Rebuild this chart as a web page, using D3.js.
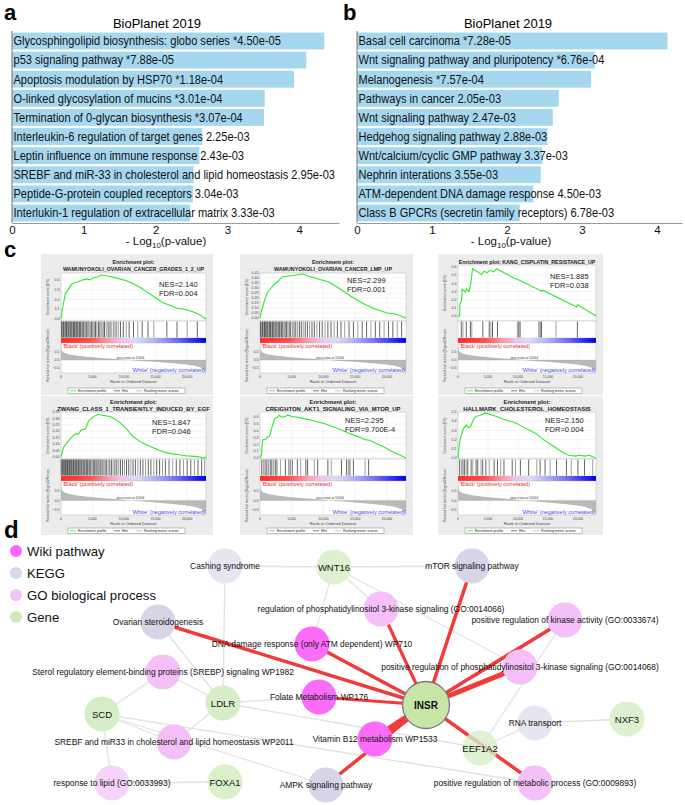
<!DOCTYPE html>
<html><head><meta charset="utf-8">
<script src="https://cdn.jsdelivr.net/npm/d3@7"></script>
<style>
body{margin:0;background:#fff}
svg{display:block;font-family:"Liberation Sans",Arial,Helvetica,sans-serif}
</style>
</head><body>
<svg id="fig" width="685" height="805"></svg>
<script>
// ---------------- DATA ----------------
// Panel a
const termsA = ["Glycosphingolipid biosynthesis: globo series","p53 signaling pathway","Apoptosis modulation by HSP70","O-linked glycosylation of mucins","Termination of 0-glycan biosynthesis","Interleukin-6 regulation of target genes","Leptin influence on immune response","SREBF and miR-33 in cholesterol and lipid homeostasis","Peptide-G-protein coupled receptors","Interlukin-1 regulation of extracellular matrix"];
const pLabelsA = ["*4.50e-05","*7.88e-05","*1.18e-04","*3.01e-04","*3.07e-04","2.25e-03","2.43e-03","2.95e-03","3.04e-03","3.33e-03"];
const valuesA = [4.35,4.10,3.93,3.52,3.51,2.65,2.61,2.53,2.52,2.48];
// Panel b
const termsB = ["Basal cell carcinoma","Wnt signaling pathway and pluripotency","Melanogenesis","Pathways in cancer","Wnt signaling pathway","Hedgehog signaling pathway","Wnt/calcium/cyclic GMP pathway","Nephrin interations","ATM-dependent DNA damage response","Class B GPCRs (secretin family receptors)"];
const pLabelsB = ["*7.28e-05","*6.76e-04","*7.57e-04","2.05e-03","2.47e-03","2.88e-03","3.37e-03","3.55e-03","4.50e-03","6.78e-03"];
const valuesB = [4.14,3.17,3.12,2.69,2.61,2.54,2.47,2.45,2.35,2.17];
const barTicks = [0,1,2,3,4];

// Panel c (GSEA)
const gseaTitles = [["Enrichment plot:","WAMUNYOKOLI_OVARIAN_CANCER_GRADES_1_2_UP"],["Enrichment plot:","WAMUNYOKOLI_OVARIAN_CANCER_LMP_UP"],["Enrichment plot: KANG_CISPLATIN_RESISTANCE_UP"],["Enrichment plot:","ZWANG_CLASS_1_TRANSIENTLY_INDUCED_BY_EGF"],["Enrichment plot:","CREIGHTON_AKT1_SIGNALING_VIA_MTOR_UP"],["Enrichment plot:","HALLMARK_CHOLESTEROL_HOMEOSTASIS"]];
const gseaNES = ["2.140","2.299","1.885","1.847","2.295","2.150"];
const gseaFDR = ["0.004","0.001","0.038","0.046","9.700E-4","0.004"];
const esTicks1 = [0,0.1,0.2,0.3,0.4];
const esTicks2 = [0,0.05,0.1,0.15,0.2,0.25,0.3,0.35,0.4,0.45];
const esTicks3 = [0,0.1,0.2,0.3,0.4,0.5,0.6];
const esTicks4 = [0,0.05,0.1,0.15,0.2,0.25,0.3,0.35];
const esTicks5 = [0,0.1,0.2,0.3,0.4,0.5,0.6];
const esTicks6 = [0,0.1,0.2,0.3,0.4,0.5];
const es1 = [[0,0],[0.01,0.1],[0.02,0.18],[0.03,0.26],[0.05,0.3],[0.07,0.35],[0.09,0.37],[0.12,0.38],[0.15,0.4],[0.18,0.41],[0.2,0.4],[0.22,0.42],[0.25,0.43],[0.28,0.45],[0.32,0.44],[0.38,0.42],[0.45,0.39],[0.5,0.36],[0.55,0.32],[0.6,0.27],[0.65,0.22],[0.7,0.17],[0.75,0.14],[0.8,0.11],[0.85,0.1],[0.9,0.08],[0.95,0.05],[1,0]];
const es2 = [[0,0],[0.01,0.07],[0.03,0.17],[0.05,0.25],[0.08,0.31],[0.1,0.34],[0.12,0.36],[0.15,0.41],[0.2,0.42],[0.25,0.43],[0.29,0.44],[0.33,0.42],[0.4,0.39],[0.47,0.36],[0.55,0.29],[0.62,0.22],[0.7,0.15],[0.77,0.1],[0.83,0.07],[0.87,0.05],[0.93,0.04],[1,0]];
const es3 = [[0,0],[0.012,0],[0.014,0.15],[0.025,0.18],[0.03,0.33],[0.055,0.29],[0.06,0.33],[0.08,0.3],[0.09,0.37],[0.1,0.5],[0.105,0.58],[0.17,0.51],[0.19,0.55],[0.21,0.53],[0.23,0.56],[0.26,0.54],[0.28,0.58],[0.3,0.56],[0.41,0.46],[0.43,0.45],[0.6,0.31],[0.62,0.31],[0.86,0.11],[0.865,0.14],[1,0]];
const es4 = [[0,0],[0.01,0.05],[0.02,0.08],[0.04,0.11],[0.07,0.15],[0.1,0.18],[0.12,0.18],[0.14,0.21],[0.17,0.22],[0.19,0.28],[0.22,0.31],[0.25,0.33],[0.28,0.325],[0.34,0.315],[0.38,0.29],[0.41,0.265],[0.45,0.22],[0.5,0.155],[0.56,0.11],[0.62,0.08],[0.68,0.05],[0.74,0.03],[0.8,0.02],[0.86,0.01],[0.92,0.005],[0.96,0],[0.98,-0.01],[1,0]];
const es5 = [[0,0],[0.01,0.05],[0.015,0.2],[0.02,0.27],[0.04,0.28],[0.05,0.31],[0.06,0.31],[0.07,0.35],[0.08,0.44],[0.09,0.51],[0.1,0.58],[0.12,0.6],[0.13,0.63],[0.15,0.6],[0.17,0.61],[0.19,0.63],[0.22,0.61],[0.26,0.6],[0.3,0.58],[0.35,0.56],[0.4,0.53],[0.45,0.5],[0.5,0.46],[0.55,0.42],[0.6,0.37],[0.64,0.34],[0.7,0.29],[0.72,0.27],[0.75,0.26],[0.8,0.21],[0.85,0.16],[0.9,0.1],[0.95,0.05],[1,0]];
const es6 = [[0,0],[0.01,0.15],[0.02,0.23],[0.04,0.32],[0.06,0.36],[0.075,0.33],[0.09,0.34],[0.11,0.41],[0.13,0.45],[0.17,0.47],[0.2,0.49],[0.24,0.47],[0.28,0.45],[0.35,0.41],[0.42,0.38],[0.48,0.33],[0.56,0.27],[0.62,0.2],[0.7,0.12],[0.76,0.06],[0.8,0.03],[0.85,0.02],[0.88,0.03],[0.92,0.02],[0.95,0.03],[0.98,0.01],[1,0]];
const hits1 = [0.004,0.01,0.016,0.021,0.027,0.033,0.038,0.044,0.05,0.056,0.061,0.067,0.074,0.08,0.086,0.093,0.1,0.106,0.113,0.12,0.127,0.134,0.142,0.15,0.157,0.165,0.173,0.18,0.19,0.2,0.21,0.218,0.228,0.238,0.247,0.258,0.268,0.278,0.29,0.3,0.312,0.325,0.338,0.35,0.365,0.38,0.395,0.41,0.43,0.45,0.47,0.5,0.53,0.56,0.6,0.64,0.73,0.8,0.87,0.94];
const hits2 = [0.003,0.009,0.015,0.02,0.026,0.031,0.037,0.043,0.048,0.054,0.06,0.066,0.072,0.078,0.085,0.091,0.097,0.104,0.111,0.118,0.125,0.133,0.14,0.148,0.156,0.164,0.172,0.181,0.19,0.2,0.21,0.222,0.233,0.245,0.258,0.27,0.283,0.296,0.31,0.325,0.34,0.356,0.372,0.39,0.408,0.426,0.445,0.465,0.486,0.508,0.53,0.555,0.58,0.61,0.64,0.67,0.7,0.73,0.76,0.79,0.82,0.85,0.88,0.91,0.94,0.97];
const hits3 = [0.024,0.036,0.06,0.09,0.1,0.18,0.226,0.238,0.25,0.286,0.43,0.44,0.45,0.585,0.595,0.605,0.71,0.865];
const hits4 = [0.002,0.007,0.012,0.016,0.021,0.026,0.031,0.035,0.04,0.045,0.05,0.055,0.06,0.065,0.07,0.075,0.08,0.086,0.091,0.097,0.102,0.108,0.114,0.12,0.126,0.132,0.138,0.144,0.15,0.157,0.164,0.17,0.177,0.184,0.191,0.198,0.206,0.214,0.222,0.23,0.238,0.247,0.256,0.265,0.274,0.284,0.294,0.304,0.315,0.326,0.337,0.349,0.36,0.372,0.385,0.398,0.41,0.424,0.438,0.452,0.467,0.482,0.497,0.513,0.53,0.547,0.565,0.583,0.602,0.62,0.64,0.66,0.68,0.7,0.72,0.745,0.77,0.795,0.82,0.845,0.87,0.895,0.92,0.945,0.97,0.99];
const hits5 = [0.012,0.023,0.035,0.047,0.058,0.07,0.081,0.093,0.105,0.116,0.14,0.174,0.198,0.209,0.221,0.256,0.279,0.314,0.326,0.372,0.395,0.465,0.488,0.558,0.593,0.605,0.616,0.64,0.72,0.744];
const hits6 = [0.012,0.024,0.036,0.048,0.06,0.071,0.095,0.107,0.131,0.143,0.167,0.179,0.202,0.226,0.262,0.286,0.31,0.333,0.393,0.417,0.452,0.512,0.571,0.595,0.631,0.667,0.714,0.786,0.821,0.869,0.917,0.976];
const rankMetric = [[0,0.95],[0.005,0.6],[0.02,0.45],[0.05,0.36],[0.1,0.28],[0.2,0.19],[0.3,0.12],[0.4,0.06],[0.478,0],[0.55,-0.05],[0.65,-0.11],[0.75,-0.18],[0.85,-0.26],[0.92,-0.35],[0.97,-0.48],[0.995,-0.7],[1,-0.78]];
const rankTicks = [0,5000,10000,15000,20000];
const rankTotal = 23000;
const metricTicks = [0.5,0,-0.5];
const zeroCross = 11004;

// Panel d (network)
const nodeNames = ["INSR","Cashing syndrome","WNT16","mTOR signaling pathway","Ovarian steroidogenesis","regulation of phosphatidylinositol 3-kinase signaling (GO:0014066)","positive regulation of kinase activity (GO:0033674)","DNA damage response (only ATM dependent) WP710","positive regulation of phosphatidylinositol 3-kinase signaling (GO:0014068)","Sterol regulatory element-binding proteins (SREBP) signaling WP1982","Folate Metabolism WP176","LDLR","SCD","SREBF and miR33 in cholesterol and lipid homeostasis WP2011","Vitamin B12 metabolism WP1533","RNA transport","NXF3","EEF1A2","response to lipid (GO:0033993)","FOXA1","AMPK signaling pathway","positive regulation of metabolic process (GO:0009893)"];
const nodeTypes = ["Gene","KEGG","Gene","KEGG","KEGG","GO","GO","Wiki","GO","GO","Wiki","Gene","Gene","GO","Wiki","KEGG","Gene","Gene","GO","Gene","KEGG","GO"];
const legendLabels = ["Wiki pathway","KEGG","GO biological process","Gene"];
const legendTypes = ["Wiki","KEGG","GO","Gene"];
const insrTargets = ["Ovarian steroidogenesis","DNA damage response (only ATM dependent) WP710","regulation of phosphatidylinositol 3-kinase signaling (GO:0014066)","mTOR signaling pathway","positive regulation of kinase activity (GO:0033674)","positive regulation of phosphatidylinositol 3-kinase signaling (GO:0014068)","Folate Metabolism WP176","Vitamin B12 metabolism WP1533","AMPK signaling pathway","positive regulation of metabolic process (GO:0009893)"];
const otherLinks = [["Cashing syndrome","WNT16"],["WNT16","mTOR signaling pathway"],["Cashing syndrome","LDLR"],["WNT16","DNA damage response (only ATM dependent) WP710"],["WNT16","regulation of phosphatidylinositol 3-kinase signaling (GO:0014066)"],["WNT16","positive regulation of phosphatidylinositol 3-kinase signaling (GO:0014068)"],["Ovarian steroidogenesis","LDLR"],["Sterol regulatory element-binding proteins (SREBP) signaling WP1982","LDLR"],["Sterol regulatory element-binding proteins (SREBP) signaling WP1982","SCD"],["LDLR","Folate Metabolism WP176"],["LDLR","SREBF and miR33 in cholesterol and lipid homeostasis WP2011"],["LDLR","EEF1A2"],["SCD","SREBF and miR33 in cholesterol and lipid homeostasis WP2011"],["SCD","response to lipid (GO:0033993)"],["SCD","AMPK signaling pathway"],["SCD","positive regulation of metabolic process (GO:0009893)"],["response to lipid (GO:0033993)","FOXA1"],["RNA transport","NXF3"],["RNA transport","EEF1A2"],["EEF1A2","positive regulation of kinase activity (GO:0033674)"]];

// ---------------- LAYOUT / STYLE ----------------
const netLayout = {
 "INSR":[426,705],"Cashing syndrome":[225,566],"WNT16":[334,567],"mTOR signaling pathway":[472,566],
 "Ovarian steroidogenesis":[158,622],"regulation of phosphatidylinositol 3-kinase signaling (GO:0014066)":[381,609],
 "positive regulation of kinase activity (GO:0033674)":[565,620],"DNA damage response (only ATM dependent) WP710":[312,644],
 "positive regulation of phosphatidylinositol 3-kinase signaling (GO:0014068)":[520,667],
 "Sterol regulatory element-binding proteins (SREBP) signaling WP1982":[163,672],"Folate Metabolism WP176":[319,697],
 "LDLR":[223,703],"SCD":[102,714],"SREBF and miR33 in cholesterol and lipid homeostasis WP2011":[174,742],
 "Vitamin B12 metabolism WP1533":[375,739],"RNA transport":[535,723],"NXF3":[627,719],"EEF1A2":[480,748],
 "response to lipid (GO:0033993)":[112,783],"FOXA1":[225,782],"AMPK signaling pathway":[326,785],
 "positive regulation of metabolic process (GO:0009893)":[535,783]
};
const typeColor = {Wiki:"#fb6cf8",KEGG:"#d6d4e6",GO:"#f5bff8",Gene:"#d6eec8"};
const legendColor = {Wiki:"#ff66ff",KEGG:"#d8d6e8",GO:"#f5c2f8",Gene:"#cdeab8"};
const nodeFillOverride = {"Cashing syndrome":"#e6e6f0","RNA transport":"#e6e6f0","response to lipid (GO:0033993)":"#f6d3f8","INSR":"#c6e5a6","WNT16":"#dcf1cf","NXF3":"#dcf1cf","FOXA1":"#d9f0cb"};
const insrWidths = [3.5,3.5,3.2,3.5,3.5,5,3.2,7,3.5,3.5];

const svg = d3.select("#fig");
const defs = svg.append("defs");
const grad = defs.append("linearGradient").attr("id","cbar");
[[0,"#ff2a2a"],[0.2,"#ff5050"],[0.32,"#f79aa8"],[0.42,"#efc4ec"],[0.52,"#dcdcf6"],[0.65,"#b0b0f4"],[0.8,"#6c6cf0"],[0.92,"#2a2af0"],[1,"#0000e6"]]
 .forEach(s=>grad.append("stop").attr("offset",s[0]).attr("stop-color",s[1]));

// ---------------- PANELS a / b ----------------
function barPanel(terms,pl,vals,x0,x1,dmax,letter,letterX,titleX,axTitleX){
  const g = svg.append("g");
  const x = d3.scaleLinear().domain([0,dmax]).range([x0,x1]);
  const y = d3.scaleBand().domain(terms).range([32,222]).paddingInner(0.12).paddingOuter(0.03);
  g.append("text").attr("x",letterX).attr("y",20).attr("font-size",22).attr("font-weight","bold").text(letter);
  g.append("text").attr("x",titleX).attr("y",28).attr("text-anchor","middle").attr("font-size",13).text("BioPlanet 2019");
  g.selectAll("rect.bar").data(terms).join("rect").attr("class","bar")
    .attr("x",x(0)).attr("y",d=>y(d)).attr("height",y.bandwidth())
    .attr("width",(d,i)=>x(vals[i])-x(0)).attr("fill","#a5d7ef");
  g.selectAll("text.lab").data(terms).join("text").attr("class","lab")
    .attr("transform",d=>`translate(${x(0)+1.5},${y(d)+y.bandwidth()/2+4.4}) scale(0.9,1)`)
    .attr("font-size",12.3).attr("fill","#111").text((d,i)=>d+" "+pl[i]);
  const ax = g.append("g").attr("transform","translate(0,223)")
    .call(d3.axisBottom(x).tickValues(barTicks).tickSize(0).tickPadding(2.5).tickFormat(d3.format("d")));
  ax.select(".domain").attr("stroke","#999");
  ax.selectAll("text").attr("font-size",11.5).attr("fill","#111").attr("font-family","Liberation Sans, Arial");
  g.append("line").attr("x1",x(0)).attr("x2",x(0)).attr("y1",31).attr("y2",223).attr("stroke","#555").attr("stroke-width",0.8);
  const t = g.append("text").attr("x",axTitleX).attr("y",245).attr("text-anchor","middle").attr("font-size",11.5).attr("fill","#111");
  t.append("tspan").text("- Log");
  t.append("tspan").attr("font-size",8).attr("dy",3).text("10");
  t.append("tspan").attr("dy",-3).text("(p-value)");
}
barPanel(termsA,pLabelsA,valuesA,12,339,4.555,"a",4,157,166);
barPanel(termsB,pLabelsB,valuesB,357,682,4.333,"b",343,508,511);

// ---------------- PANEL c ----------------
svg.append("text").attr("x",4).attr("y",257).attr("font-size",22).attr("font-weight","bold").text("c");
const rows = [
 {top:254,esTop:273,esBot:321,hitBot:338,cbBot:343,rkBot:373,tickY:378,labY:383,legY:388,bottom:395,t1:10,t2:16.5,tf:5.3},
 {top:396,esTop:412,esBot:459,hitBot:476,cbBot:481,rkBot:515,tickY:520,labY:524.5,legY:528,bottom:535,t1:7.8,t2:14.8,tf:5.9}
];
const cols = [{x:41,w:172},{x:240,w:173},{x:438,w:165}];
const gspecs = [
 {r:0,c:0,es:es1,hits:hits1,ticks:esTicks1,fmt:".1f",dom:[-0.02,0.47],nes:[159,287]},
 {r:0,c:1,es:es2,hits:hits2,ticks:esTicks2,fmt:".2f",dom:[-0.03,0.45],nes:[347,283]},
 {r:0,c:2,es:es3,hits:hits3,ticks:esTicks3,fmt:".1f",dom:[-0.0625,0.625],nes:[550,279],esTop:265},
 {r:1,c:0,es:es4,hits:hits4,ticks:esTicks4,fmt:".2f",dom:[-0.0156,0.35],nes:[152,425]},
 {r:1,c:1,es:es5,hits:hits5,ticks:esTicks5,fmt:".1f",dom:[-0.015,0.677],nes:[345,423]},
 {r:1,c:2,es:es6,hits:hits6,ticks:esTicks6,fmt:".1f",dom:[-0.011,0.5],nes:[545,423]}
];
gspecs.forEach((s,i)=>{
  const L = rows[s.r], C = cols[s.c];
  const g = svg.append("g");
  const left = C.x+20, right = C.x+C.w-7;
  const esTop = s.esTop || L.esTop;
  g.append("rect").attr("x",C.x).attr("y",L.top).attr("width",C.w).attr("height",L.bottom-L.top).attr("fill","#ececec");
  const tl = gseaTitles[i];
  const cx = (left+right)/2;
  tl.forEach((line,k)=>{
    g.append("text").attr("x",cx).attr("y",L.top+(k===0?L.t1:L.t2)).attr("text-anchor","middle")
      .attr("font-size",L.tf).attr("font-weight","bold").attr("fill","#222").text(line);
  });
  const xs = d3.scaleLinear().domain([0,1]).range([left,right]);
  const xr = d3.scaleLinear().domain([0,rankTotal]).range([left,right]);
  const ys = d3.scaleLinear().domain(s.dom).range([L.esBot,esTop]);
  g.append("rect").attr("x",left).attr("y",esTop).attr("width",right-left).attr("height",L.esBot-esTop).attr("fill","#fff").attr("stroke","#aaa").attr("stroke-width",0.4);
  g.selectAll("line.vg").data(rankTicks.slice(1)).join("line").attr("x1",d=>xr(d)).attr("x2",d=>xr(d)).attr("y1",esTop).attr("y2",L.esBot).attr("stroke","#e4e4e4").attr("stroke-width",0.4);
  g.selectAll("line.hg").data(s.ticks).join("line").attr("x1",left).attr("x2",right).attr("y1",d=>ys(d)).attr("y2",d=>ys(d)).attr("stroke","#e4e4e4").attr("stroke-width",0.4);
  g.selectAll("text.yt").data(s.ticks).join("text").attr("x",left-1.5).attr("y",d=>ys(d)+1.2).attr("text-anchor","end").attr("font-size",3.6).attr("fill","#444").text(d=>d3.format(s.fmt)(d));
  g.append("path").datum(s.es).attr("d",d3.line().x(d=>xs(d[0])).y(d=>ys(d[1]))).attr("fill","none").attr("stroke","#2ee82e").attr("stroke-width",1.1);
  g.append("text").attr("x",s.nes[0]).attr("y",s.nes[1]).attr("font-size",7.5).attr("fill","#222").text("NES="+gseaNES[i]);
  g.append("text").attr("x",s.nes[0]).attr("y",s.nes[1]+8.6).attr("font-size",7.5).attr("fill","#222").text("FDR="+gseaFDR[i]);
  // hits
  g.append("rect").attr("x",left).attr("y",L.esBot).attr("width",right-left).attr("height",L.hitBot-L.esBot).attr("fill","#fff").attr("stroke","#aaa").attr("stroke-width",0.4);
  g.selectAll("line.hit").data(s.hits).join("line").attr("x1",d=>xs(d)).attr("x2",d=>xs(d)).attr("y1",L.esBot+0.5).attr("y2",L.hitBot-0.5).attr("stroke",(d,j)=>j%3===1?"#777":"#222").attr("stroke-width",0.7);
  // color bar
  g.append("rect").attr("x",left).attr("y",L.hitBot).attr("width",right-left).attr("height",L.cbBot-L.hitBot).attr("fill","url(#cbar)");
  // ranked metric
  const yr = d3.scaleLinear().domain([-0.8,1.06]).range([L.rkBot,L.cbBot]);
  g.append("rect").attr("x",left).attr("y",L.cbBot).attr("width",right-left).attr("height",L.rkBot-L.cbBot).attr("fill","#fff").attr("stroke","#aaa").attr("stroke-width",0.4);
  g.selectAll("line.vg2").data(rankTicks.slice(1)).join("line").attr("x1",d=>xr(d)).attr("x2",d=>xr(d)).attr("y1",L.cbBot).attr("y2",L.rkBot).attr("stroke","#e4e4e4").attr("stroke-width",0.4);
  g.append("path").datum(rankMetric).attr("d",d3.area().x(d=>xs(d[0])).y0(yr(0)).y1(d=>yr(d[1]))).attr("fill","#b9b9b9");
  g.append("line").attr("x1",left).attr("x2",right).attr("y1",yr(0)).attr("y2",yr(0)).attr("stroke","#999").attr("stroke-width",0.3);
  g.append("text").attr("x",xr(zeroCross)).attr("y",yr(0)-1).attr("text-anchor","middle").attr("font-size",3.2).attr("fill","#333").text("zero cross at "+zeroCross);
  g.append("text").attr("x",left+1.5).attr("y",L.cbBot+5).attr("font-size",5.6).attr("fill","#ee2a2a").text("'Black' (positively correlated)");
  g.append("text").attr("x",right-1).attr("y",L.rkBot-1.5).attr("text-anchor","end").attr("font-size",5.6).attr("fill","#4a4af5").text("'White' (negatively correlated)");
  g.selectAll("text.mt").data(metricTicks).join("text").attr("x",left-1.5).attr("y",d=>yr(d)+1.2).attr("text-anchor","end").attr("font-size",3.6).attr("fill","#444").text(d=>d3.format(".1f")(d));
  g.selectAll("text.xt").data(rankTicks).join("text").attr("x",d=>xr(d)).attr("y",L.tickY).attr("text-anchor","middle").attr("font-size",3.4).attr("fill","#444").text(d=>d3.format(",")(d));
  g.append("text").attr("x",cx).attr("y",L.labY).attr("text-anchor","middle").attr("font-size",4.2).attr("fill","#444").text("Rank in Ordered Dataset");
  // y labels
  g.append("text").attr("transform",`translate(${C.x+8},${(esTop+L.esBot)/2}) rotate(-90)`).attr("text-anchor","middle").attr("font-size",3.6).attr("fill","#444").text("Enrichment score (ES)");
  g.append("text").attr("transform",`translate(${C.x+8},${(L.hitBot+L.rkBot)/2}) rotate(-90)`).attr("text-anchor","middle").attr("font-size",3.6).attr("fill","#444").text("Ranked list metric (Signal2Noise)");
  // legend
  const lx = C.x+27, ly = L.legY;
  g.append("rect").attr("x",lx).attr("y",ly).attr("width",117).attr("height",5.6).attr("fill","#fff").attr("stroke","#666").attr("stroke-width",0.4);
  const items = [["Enrichment profile","#2ee82e",2],["Hits","#555",46],["Ranking metric scores","#bbb",68]];
  items.forEach(it=>{
    g.append("line").attr("x1",lx+it[2]).attr("x2",lx+it[2]+6).attr("y1",ly+2.8).attr("y2",ly+2.8).attr("stroke",it[1]).attr("stroke-width",0.8);
    g.append("text").attr("x",lx+it[2]+8).attr("y",ly+4).attr("font-size",3.5).attr("fill","#222").text(it[0]);
  });
});

// ---------------- PANEL d ----------------
svg.append("text").attr("x",4).attr("y",538).attr("font-size",24).attr("font-weight","bold").text("d");
const lg = svg.append("g");
legendLabels.forEach((lab,i)=>{
  const cy = 551 + i*22;
  lg.append("circle").attr("cx",16).attr("cy",cy).attr("r",6).attr("fill",legendColor[legendTypes[i]]);
  lg.append("text").attr("x",27).attr("y",cy+4.8).attr("font-size",13.2).attr("fill","#111").text(lab);
});
const P = n => netLayout[n];
const eg = svg.append("g");
eg.selectAll("line.gl").data(otherLinks).join("line")
  .attr("x1",d=>P(d[0])[0]).attr("y1",d=>P(d[0])[1]).attr("x2",d=>P(d[1])[0]).attr("y2",d=>P(d[1])[1])
  .attr("stroke","#e2e2e2").attr("stroke-width",1.3);
eg.selectAll("line.rl").data(insrTargets).join("line")
  .attr("x1",P("INSR")[0]).attr("y1",P("INSR")[1]).attr("x2",d=>P(d)[0]).attr("y2",d=>P(d)[1])
  .attr("stroke","#f33a3a").attr("stroke-width",(d,i)=>insrWidths[i]);
const ng = svg.append("g");
ng.selectAll("circle").data(nodeNames).join("circle")
  .attr("cx",d=>P(d)[0]).attr("cy",d=>P(d)[1])
  .attr("r",d=>d==="INSR"?23.5:17.5)
  .attr("fill",(d,i)=>nodeFillOverride[d]||typeColor[nodeTypes[i]])
  .attr("fill-opacity",d=>d==="EEF1A2"?0.8:1)
  .attr("stroke",d=>d==="INSR"?"#7a7a7a":"none").attr("stroke-width",1.3);
ng.selectAll("text").data(nodeNames).join("text")
  .attr("x",d=>P(d)[0]).attr("y",(d,i)=>P(d)[1]+(nodeTypes[i]==="Gene"?3.5:3))
  .attr("text-anchor","middle")
  .attr("font-size",(d,i)=>nodeTypes[i]==="Gene"?(d==="INSR"?10:9.5):8.4)
  .attr("font-weight",d=>d==="INSR"?"bold":"normal")
  .attr("fill","#111").text(d=>d);
</script>
</body></html>
